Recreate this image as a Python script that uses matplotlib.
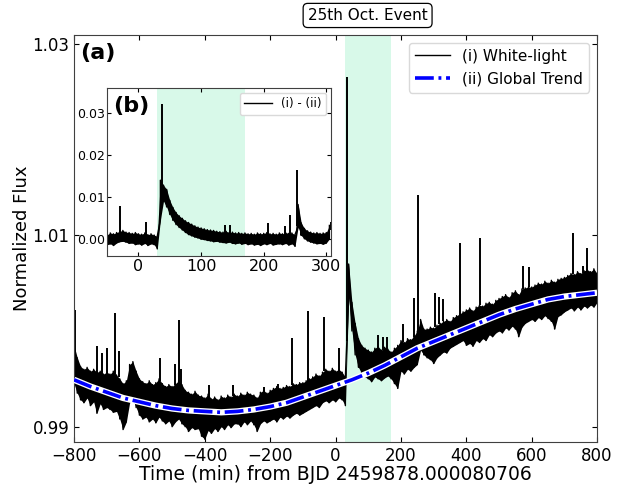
import numpy as np
import matplotlib
matplotlib.use("Agg")
import matplotlib.pyplot as plt

# ---------------- data ----------------
# main panel: white-light flux, envelope of the noisy curve on a 10-min grid
t_main = np.arange(-800, 801, 10)
flux_hi = [
    0.9985, 0.9972, 0.9963, 0.9960, 0.9962, 0.9958, 0.9960, 0.9957, 0.9958, 0.9955,   # -800..-710
    0.9957, 0.9955, 0.9958, 0.9954, 0.9950, 0.9945, 0.9948, 0.9965, 0.9968, 0.9958,   # -700..-610
    0.9950, 0.9947, 0.9945, 0.9948, 0.9944, 0.9946, 0.9950, 0.9945, 0.9942, 0.9944,   # -600..-510
    0.9942, 0.9945, 0.9948, 0.9944, 0.9938, 0.9936, 0.9934, 0.9937, 0.9933, 0.9932,   # -500..-410
    0.9930, 0.9934, 0.9929, 0.9931, 0.9928, 0.9932, 0.9930, 0.9933, 0.9931, 0.9934,   # -400..-310
    0.9932, 0.9935, 0.9933, 0.9936, 0.9934, 0.9933, 0.9930, 0.9936, 0.9938, 0.9935,   # -300..-210
    0.9938, 0.9940, 0.9942, 0.9940, 0.9941, 0.9943, 0.9942, 0.9945, 0.9944, 0.9946,   # -200..-110
    0.9946, 0.9948, 0.9950, 0.9952, 0.9955, 0.9953, 0.9957, 0.9960, 0.9958, 0.9961,   # -100..-10
    0.9958, 0.9960, 0.9957, 0.9952, 1.0070, 1.0030, 1.0008, 0.9992, 0.9985, 0.9982,   # 0..90
    0.9980, 0.9978, 0.9982, 0.9984, 0.9980, 0.9983, 0.9981, 0.9978, 0.9982, 0.9985,   # 100..190
    0.9990, 0.9988, 0.9992, 0.9991, 0.9995, 1.0000, 1.0012, 1.0002, 1.0002, 1.0004,   # 200..290
    1.0003, 1.0006, 1.0008, 1.0010, 1.0012, 1.0010, 1.0014, 1.0016, 1.0018, 1.0020,   # 300..390
    1.0022, 1.0024, 1.0021, 1.0025, 1.0027, 1.0026, 1.0029, 1.0030, 1.0028, 1.0032,   # 400..490
    1.0034, 1.0036, 1.0038, 1.0035, 1.0040, 1.0042, 1.0038, 1.0044, 1.0045, 1.0046,   # 500..590
    1.0046, 1.0048, 1.0050, 1.0049, 1.0052, 1.0050, 1.0053, 1.0051, 1.0054, 1.0055,   # 600..690
    1.0056, 1.0058, 1.0060, 1.0059, 1.0062, 1.0060, 1.0063, 1.0064, 1.0062, 1.0065,   # 700..790
    1.0060,                                                                           # 800
]
flux_lo = [
    0.9945, 0.9935, 0.9928, 0.9925, 0.9930, 0.9922, 0.9926, 0.9914, 0.9924, 0.9918,
    0.9920, 0.9918, 0.9915, 0.9916, 0.9908, 0.9897, 0.9905, 0.9925, 0.9928, 0.9920,
    0.9912, 0.9908, 0.9910, 0.9905, 0.9908, 0.9904, 0.9910, 0.9906, 0.9903, 0.9906,
    0.9900, 0.9905, 0.9908, 0.9903, 0.9900, 0.9895, 0.9899, 0.9897, 0.9898, 0.9890,
    0.9887, 0.9896, 0.9893, 0.9898, 0.9895, 0.9900, 0.9897, 0.9902, 0.9899, 0.9903,
    0.9903, 0.9900, 0.9905, 0.9902, 0.9906, 0.9902, 0.9895, 0.9903, 0.9906, 0.9904,
    0.9906, 0.9908, 0.9905, 0.9910, 0.9908, 0.9911, 0.9909, 0.9912, 0.9914, 0.9912,
    0.9914, 0.9916, 0.9918, 0.9920, 0.9922, 0.9920, 0.9925, 0.9927, 0.9925, 0.9928,
    0.9926, 0.9930, 0.9928, 0.9922, 1.0035, 1.0000, 0.9975, 0.9962, 0.9956, 0.9952,
    0.9950, 0.9947, 0.9952, 0.9950, 0.9948, 0.9951, 0.9953, 0.9950, 0.9945, 0.9940,
    0.9958, 0.9955, 0.9960, 0.9958, 0.9962, 0.9965, 0.9980, 0.9975, 0.9972, 0.9970,
    0.9966, 0.9972, 0.9975, 0.9978, 0.9977, 0.9982, 0.9984, 0.9986, 0.9988, 0.9990,
    0.9985, 0.9987, 0.9984, 0.9990, 0.9988, 0.9992, 0.9990, 0.9996, 0.9994, 0.9998,
    1.0000, 0.9998, 1.0003, 1.0001, 1.0005, 1.0002, 0.9994, 1.0004, 1.0008, 1.0010,
    1.0012, 1.0010, 1.0014, 1.0012, 1.0016, 1.0013, 1.0010, 1.0002, 1.0015, 1.0017,
    1.0020, 1.0022, 1.0024, 1.0021, 1.0025, 1.0022, 1.0026, 1.0024, 1.0027, 1.0025,
    1.0030,
]
# short impulsive spikes in the white-light curve
spike_t = [-797, -729, -714, -699, -676, -663, -538, -492, -479, -472, -386, -313,
           -218, -177, -133, -83, -34, 9, 35, 130, 145, 158, 206, 239, 252, 303,
           316, 329, 380, 441, 574, 593, 725, 756, 768]
spike_base = [0.9975, 0.9955, 0.9955, 0.9955, 0.9955, 0.9952, 0.9948, 0.9944, 0.9946,
              0.9944, 0.9930, 0.9932, 0.9936, 0.9940, 0.9944, 0.9948, 0.9958, 0.9958,
              0.9990, 0.9982, 0.9980, 0.9980, 0.9988, 0.9994, 0.9998, 1.0004, 1.0007,
              1.0010, 1.0017, 1.0027, 1.0044, 1.0046, 1.0060, 1.0061, 1.0063]
spike_peak = [1.0022, 0.9984, 0.9977, 0.9982, 1.0019, 0.9979, 0.9972, 0.9965, 1.0012,
              0.9960, 0.9944, 0.9944, 0.9942, 0.9945, 0.9993, 1.0021, 1.0015, 0.9982,
              1.0265, 0.9996, 0.9994, 0.9994, 1.0007, 1.0034, 1.0142, 1.0040, 1.0036,
              1.0033, 1.0092, 1.0097, 1.0068, 1.0067, 1.0102, 1.0068, 1.0087]

# global trend (every 50 min)
t_trend = np.arange(-800, 801, 50)
trend = [0.9949, 0.9942, 0.9936, 0.9930, 0.9926, 0.9922, 0.9919, 0.9917, 0.9916,
         0.9915, 0.9916, 0.9918, 0.9921, 0.9925, 0.9931, 0.9937, 0.9943, 0.9949,
         0.9956, 0.9964, 0.9973, 0.9982, 0.9989, 0.9996, 1.0003, 1.0010, 1.0017,
         1.0023, 1.0028, 1.0033, 1.0036, 1.0038, 1.0040]

# inset: residual (i) - (ii), envelope on a 5-min grid
t_res = np.arange(-50, 306, 5)
res_hi = [0.0010, 0.0014, 0.0012, 0.0015, 0.0018, 0.0020, 0.0016, 0.0015, 0.0013, 0.0015,
          0.0012, 0.0011, 0.0014, 0.0010, 0.0012, 0.0009, 0.0006, 0.0140, 0.0128, 0.0118,
          0.0092, 0.0075, 0.0063, 0.0055, 0.0049, 0.0043, 0.0039, 0.0035, 0.0031, 0.0028,
          0.0026, 0.0024, 0.0022, 0.0021, 0.0020, 0.0018, 0.0017, 0.0016, 0.0018, 0.0015,
          0.0016, 0.0014, 0.0015, 0.0013, 0.0014, 0.0012, 0.0013, 0.0011, 0.0014, 0.0012,
          0.0013, 0.0015, 0.0012, 0.0013, 0.0011, 0.0014, 0.0012, 0.0015, 0.0013, 0.0014,
          0.0010, 0.0082, 0.0038, 0.0025, 0.0019, 0.0016, 0.0014, 0.0015, 0.0013, 0.0014,
          0.0015, 0.0032]
res_lo = [-0.0014, -0.0012, -0.0016, -0.0010, -0.0007, -0.0006, -0.0008, -0.0011, -0.0010, -0.0014,
          -0.0012, -0.0015, -0.0011, -0.0016, -0.0012, -0.0014, -0.0024, 0.0045, 0.0090, 0.0076,
          0.0058, 0.0044, 0.0034, 0.0027, 0.0021, 0.0015, 0.0010, 0.0007, 0.0004, 0.0002,
          -0.0001, -0.0002, -0.0004, -0.0005, -0.0007, -0.0006, -0.0008, -0.0009, -0.0010, -0.0008,
          -0.0011, -0.0012, -0.0010, -0.0013, -0.0011, -0.0014, -0.0012, -0.0015, -0.0013, -0.0016,
          -0.0012, -0.0014, -0.0011, -0.0015, -0.0013, -0.0012, -0.0014, -0.0011, -0.0015, -0.0012,
          -0.0018, 0.0028, 0.0008, 0.0000, -0.0005, -0.0008, -0.0010, -0.0012, -0.0011, -0.0013,
          -0.0010, 0.0000]
res_spike_t = [-30, 12, 37, 139, 146, 207, 233.5, 242.5, 253.5, 307]
res_spike_base = [0.0012, 0.0010, 0.0120, 0.0013, 0.0012, 0.0011, 0.0012, 0.0011, 0.0030, 0.0020]
res_spike_peak = [0.0079, 0.0041, 0.0321, 0.0033, 0.0033, 0.0037, 0.0030, 0.0057, 0.0165, 0.0041]

event_span = (30, 170)

# ---------------- figure ----------------
fig = plt.figure(figsize=(6.22, 4.91), dpi=100)
ax = fig.add_axes([0.119, 0.0992, 0.841, 0.8295])

shade = '#d8f9e9'
ax.axvspan(*event_span, color=shade, lw=0, zorder=0)

ax.fill_between(t_main, flux_lo, flux_hi, color='k', lw=0, zorder=2)
x_zig = np.repeat(t_main, 2)
y_zig = np.column_stack([flux_lo, flux_hi]).ravel()
ax.plot(x_zig, y_zig, color='k', lw=1.0, zorder=2, label='(i) White-light')
ax.vlines(spike_t, spike_base, spike_peak, color='k', lw=1.4, zorder=2)

ax.plot(t_trend, trend, color='white', lw=4.5, zorder=3, solid_capstyle='butt')
ax.plot(t_trend, trend, color='blue', lw=2.6, ls=(0, (5.2, 1.3, 0.8, 1.3)),
        zorder=4, label='(ii) Global Trend')

ax.set_xlim(-800, 800)
ax.set_ylim(0.98837, 1.03093)
ax.set_xticks(np.arange(-800, 801, 200))
ax.set_yticks([0.99, 1.01, 1.03])
ax.set_yticklabels(['0.99', '1.01', '1.03'])
ax.tick_params(direction='in', top=True, right=True, labelsize=12, length=3.5)
ax.set_xlabel('Time (min) from BJD 2459878.000080706', fontsize=13.5, labelpad=0)
ax.set_ylabel('Normalized Flux', fontsize=13, labelpad=1)
for s in ax.spines.values():
    s.set_color('0.25')

leg = ax.legend(loc='upper right', fontsize=11, handlelength=2.3, framealpha=1,
                borderaxespad=0.5)
leg.get_frame().set_edgecolor('0.85')

ax.text(0.012, 0.98, '(a)', transform=ax.transAxes, fontsize=16,
        fontweight='bold', va='top', ha='left')

fig.text(0.591, 0.9685, '25th Oct. Event', ha='center', va='center', fontsize=11,
         bbox=dict(boxstyle='round,pad=0.3', fc='white', ec='k', lw=0.9))

# ---------------- inset ----------------
axi = fig.add_axes([0.1728, 0.4786, 0.3593, 0.3422])
axi.axvspan(*event_span, color=shade, lw=0, zorder=0)
axi.fill_between(t_res, res_lo, res_hi, color='k', lw=0, zorder=2)
xr = np.repeat(t_res, 2)
yr = np.column_stack([res_lo, res_hi]).ravel()
axi.plot(xr, yr, color='k', lw=1.0, zorder=2, label='(i) - (ii)')
axi.vlines(res_spike_t, res_spike_base, res_spike_peak, color='k', lw=1.4, zorder=2)
axi.set_xlim(-49.5, 307.5)
axi.set_ylim(-0.0041, 0.0360)
axi.set_xticks([0, 100, 200, 300])
axi.set_yticks([0.00, 0.01, 0.02, 0.03])
axi.set_yticklabels(['0.00', '0.01', '0.02', '0.03'])
axi.tick_params(direction='in', top=True, right=True, labelsize=9, length=3, pad=2)
axi.tick_params(axis='x', labelsize=11.5)
for s in axi.spines.values():
    s.set_color('0.25')
legi = axi.legend(loc='upper right', fontsize=8.5, handlelength=2.3, framealpha=1,
                  borderaxespad=0.4)
legi.get_frame().set_edgecolor('0.85')
axi.text(0.025, 0.955, '(b)', transform=axi.transAxes, fontsize=16,
         fontweight='bold', va='top', ha='left')

fig.savefig('out.png', dpi=100)
